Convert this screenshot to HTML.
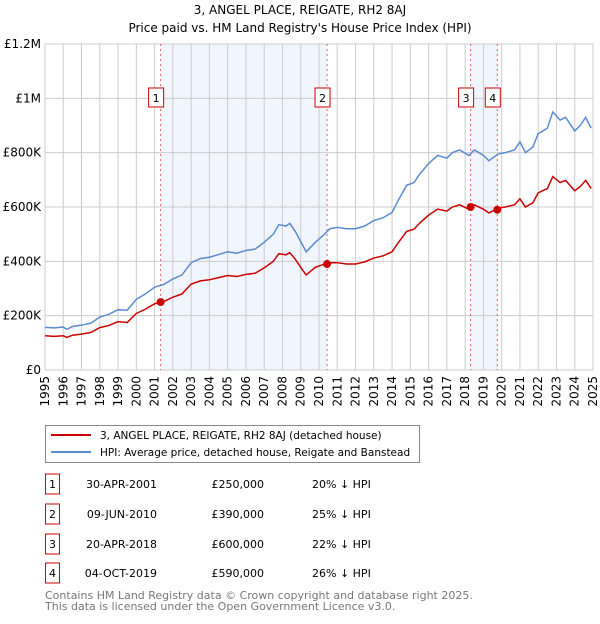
<!DOCTYPE html>
<html><head><meta charset="utf-8">
<style>
body{margin:0;background:#fff;font-family:"DejaVu Sans","Liberation Sans",sans-serif;}
svg text{font-family:"DejaVu Sans","Liberation Sans",sans-serif;}
</style></head>
<body>
<svg id="chart" width="600" height="620" xmlns="http://www.w3.org/2000/svg">
<text x="300" y="14" text-anchor="middle" font-size="12">3, ANGEL PLACE, REIGATE, RH2 8AJ</text>
<text x="300" y="32" text-anchor="middle" font-size="12">Price paid vs. HM Land Registry's House Price Index (HPI)</text>
<g id="plot"></g>
<g>
<rect x="45.5" y="425.5" width="374" height="37" fill="#fff" stroke="#888"/>
<line x1="51" y1="435" x2="91" y2="435" stroke="#cc0000" stroke-width="2"/>
<text x="100" y="439" font-size="10.5">3, ANGEL PLACE, REIGATE, RH2 8AJ (detached house)</text>
<line x1="51" y1="452" x2="91" y2="452" stroke="#5b8bd0" stroke-width="2"/>
<text x="100" y="456" font-size="10.5">HPI: Average price, detached house, Reigate and Banstead</text>
</g>
<g id="table" font-size="11"></g>
<text x="45" y="599" font-size="11" fill="#777">Contains HM Land Registry data © Crown copyright and database right 2025.</text>
<text x="45" y="610" font-size="11" fill="#777">This data is licensed under the Open Government Licence v3.0.</text>
</svg>
<script>
const hpiDates=[1995,1995.5,1996,1996.2,1996.5,1997,1997.5,1998,1998.5,1999,1999.5,2000,2000.5,2001,2001.5,2002,2002.5,2003,2003.5,2004,2004.5,2005,2005.5,2006,2006.5,2007,2007.5,2007.8,2008.2,2008.4,2008.7,2009.1,2009.3,2009.8,2010.3,2010.6,2011,2011.5,2012,2012.5,2013,2013.5,2014,2014.3,2014.8,2015.2,2015.5,2016,2016.5,2017,2017.3,2017.7,2018.2,2018.5,2019,2019.3,2019.8,2020.2,2020.7,2021,2021.3,2021.7,2022,2022.5,2022.8,2023.2,2023.5,2024,2024.3,2024.6,2024.9];
const hpiValues=[157,155,158,150,160,165,172,195,205,222,220,260,280,305,315,335,350,395,410,415,425,435,430,440,445,470,500,535,530,540,510,460,435,470,500,520,525,520,520,530,550,560,580,620,680,690,720,760,790,780,800,810,790,810,790,770,795,800,810,840,800,820,870,890,950,920,930,880,900,930,890];
const propValues=[126,124,126,120,128,132,138,156,164,178,175,208,224,244,252,268,280,316,328,332,340,348,344,352,356,376,400,428,424,432,408,368,350,378,390,395,395,390,390,398,412,420,435,465,510,518,540,570,592,585,600,608,592,608,592,578,596,600,608,630,600,615,652,668,712,690,698,660,675,698,668];
const saleDates=[2001.33,2010.44,2018.3,2019.76];
const salePrices=[250,390,600,590];
const saleLabels=["1","2","3","4"];
const saleDateText=["30-APR-2001","09-JUN-2010","20-APR-2018","04-OCT-2019"];
const salePriceText=["£250,000","£390,000","£600,000","£590,000"];
const saleDiffText=["20% ↓ HPI","25% ↓ HPI","22% ↓ HPI","26% ↓ HPI"];
const yTicks=[0,200,400,600,800,1000,1200];
const yTickLabels=["£0","£200K","£400K","£600K","£800K","£1M","£1.2M"];
const xYears=[1995,1996,1997,1998,1999,2000,2001,2002,2003,2004,2005,2006,2007,2008,2009,2010,2011,2012,2013,2014,2015,2016,2017,2018,2019,2020,2021,2022,2023,2024,2025];

const NS="http://www.w3.org/2000/svg";
const X0=45,X1=593,Y0=370,Y1=44;
const xS=t=>X0+(t-1995)/30*(X1-X0);
const yS=v=>Y0-v/1200*(Y0-Y1);
const plot=document.getElementById('plot');
function mk(tag,attrs,parent){const e=document.createElementNS(NS,tag);for(const k in attrs)e.setAttribute(k,attrs[k]);(parent||plot).appendChild(e);return e;}

let r=mk('rect',{x:X0,y:Y1,width:X1-X0,height:Y0-Y1,fill:'#fff'});


[[0,1],[2,3]].forEach((p,i)=>{
 const s=mk('rect',{x:xS(saleDates[p[0]]),y:Y1,width:xS(saleDates[p[1]])-xS(saleDates[p[0]]),height:Y0-Y1,fill:'#eef2fc',opacity:0.8});
 
 
});
xYears.forEach(y=>{
 const l=mk('line',{x1:xS(y),x2:xS(y),y1:Y1,y2:Y0,stroke:'#ccc','stroke-width':1});
 
 
 const t=mk('text',{x:0,y:0,'font-size':12,'text-anchor':'end',transform:`translate(${xS(y)+4},${Y0+6}) rotate(-90)`});
 t.textContent=y;
 
 
});
yTicks.forEach((v,i)=>{
 const l=mk('line',{x1:X0,x2:X1,y1:yS(v),y2:yS(v),stroke:'#ccc','stroke-width':1});
 
 
 const t=mk('text',{x:X0-4,y:yS(v)+4,'font-size':12,'text-anchor':'end'});
 t.textContent=yTickLabels[i];
 
 
});
const bd=mk('rect',{x:X0,y:Y1,width:X1-X0,height:Y0-Y1,fill:'none',stroke:'#ccc'});


saleDates.forEach((d,i)=>{
 const l=mk('line',{x1:xS(d),x2:xS(d),y1:Y1,y2:Y0,stroke:'#e06060','stroke-dasharray':'2,3','stroke-width':1});
 
 
});
const hp=mk('polyline',{points:hpiDates.map((d,i)=>xS(d)+','+yS(hpiValues[i])).join(' '),fill:'none',stroke:'#5b8bd0','stroke-width':1.5});


const pp=mk('polyline',{points:hpiDates.map((d,i)=>xS(d)+','+yS(propValues[i])).join(' '),fill:'none',stroke:'#cc0000','stroke-width':1.5});


saleDates.forEach((d,i)=>{
 const c=mk('circle',{cx:xS(d),cy:yS(salePrices[i]),r:4,fill:'#cc0000'});
 
 
 const bx=mk('rect',{x:xS(d)-12,y:88,width:15,height:19,fill:'#fff',stroke:'#cc0000'});
 
 
 const t=mk('text',{x:xS(d)-4.5,y:102,'font-size':11,'text-anchor':'middle'});
 t.textContent=saleLabels[i];
 
 
});
const tbl=document.getElementById('table');
const rowY=[484,514,544,573];
saleLabels.forEach((lab,i)=>{
 const y=rowY[i];
 const b=mk('rect',{x:45.5,y:y-10,width:14,height:20,fill:'#fff',stroke:'#cc0000'},tbl);
 
 
 const n=mk('text',{x:52.5,y:y+4,'text-anchor':'middle'},tbl);n.textContent=lab;
 
 
 const dt=mk('text',{x:157,y:y+4,'text-anchor':'end'},tbl);dt.textContent=saleDateText[i];
 
 
 const pr=mk('text',{x:264,y:y+4,'text-anchor':'end'},tbl);pr.textContent=salePriceText[i];
 
 
 const df=mk('text',{x:312,y:y+4},tbl);df.textContent=saleDiffText[i];
 
 
});
</script>
</body></html>
